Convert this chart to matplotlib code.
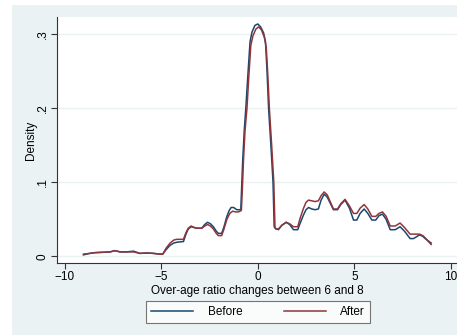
import numpy as np
import matplotlib.pyplot as plt
from matplotlib.patches import Rectangle

plt.rcParams['font.family'] = ['Liberation Sans', 'DejaVu Sans']

# Density curves
x_before = [-9.03, -8.7, -8.43, -8.0, -7.65, -7.4, -7.13, -6.8, -6.44, -6.1, -5.75, -5.4, -5.1,
            -4.92, -4.75, -4.54, -4.35, -4.2, -3.85, -3.72, -3.6, -3.45, -3.3, -3.16, -2.9,
            -2.75, -2.6, -2.45, -2.3, -2.15, -2.04, -1.87, -1.75, -1.6, -1.48, -1.38, -1.25,
            -1.09, -0.88, -0.84, -0.78, -0.7, -0.62, -0.5, -0.4, -0.3, -0.15, 0.0, 0.15, 0.3,
            0.4, 0.48, 0.56, 0.68, 0.79, 0.85, 0.9, 1.07, 1.25, 1.47, 1.65, 1.85, 2.07, 2.2,
            2.37, 2.5, 2.63, 2.8, 2.97, 3.14, 3.28, 3.44, 3.6, 3.75, 3.92, 4.13, 4.3, 4.52,
            4.75, 4.96, 5.13, 5.3, 5.51, 5.7, 5.91, 6.11, 6.28, 6.46, 6.65, 6.86, 7.12, 7.37,
            7.6, 7.89, 8.07, 8.38, 8.55, 8.67, 8.98]
y_before = [0.002, 0.004, 0.005, 0.0055, 0.006, 0.0077, 0.006, 0.006, 0.007, 0.004, 0.0045, 0.004, 0.003,
            0.003, 0.009, 0.015, 0.018, 0.019, 0.02, 0.03, 0.037, 0.04, 0.039, 0.038, 0.038,
            0.043, 0.046, 0.044, 0.04, 0.034, 0.031, 0.031, 0.04, 0.054, 0.062, 0.066, 0.066,
            0.063, 0.063, 0.09, 0.13, 0.17, 0.2, 0.25, 0.29, 0.303, 0.312, 0.314, 0.31, 0.302,
            0.29, 0.25, 0.2, 0.15, 0.1, 0.04, 0.038, 0.036, 0.042, 0.046, 0.043, 0.036, 0.036, 0.045,
            0.056, 0.063, 0.066, 0.064, 0.063, 0.064, 0.076, 0.084, 0.08, 0.072, 0.063, 0.063, 0.07, 0.076,
            0.065, 0.049, 0.049, 0.058, 0.064, 0.058, 0.049, 0.049, 0.055, 0.057, 0.05, 0.036, 0.036, 0.04,
            0.034, 0.024, 0.024, 0.029, 0.027, 0.024, 0.018]

x_after = [-9.03, -8.7, -8.43, -8.0, -7.65, -7.4, -7.13, -6.8, -6.44, -6.1, -5.75, -5.4, -5.1,
           -4.92, -4.75, -4.54, -4.35, -4.2, -3.85, -3.72, -3.6, -3.45, -3.3, -3.16, -2.9,
           -2.75, -2.6, -2.45, -2.3, -2.15, -2.04, -1.87, -1.75, -1.6, -1.45, -1.3, -1.15,
           -1.0, -0.85, -0.8, -0.74, -0.66, -0.56, -0.46, -0.36, -0.25, -0.1, 0.04, 0.19, 0.34,
           0.44, 0.52, 0.6, 0.72, 0.83, 0.89, 0.93, 1.07, 1.25, 1.47, 1.65, 1.85, 2.07, 2.2,
           2.37, 2.5, 2.63, 2.8, 2.97, 3.14, 3.28, 3.44, 3.6, 3.75, 3.92, 4.13, 4.3, 4.52,
           4.75, 4.96, 5.13, 5.3, 5.51, 5.7, 5.91, 6.11, 6.28, 6.46, 6.65, 6.86, 7.12, 7.37,
           7.6, 7.89, 8.07, 8.38, 8.55, 8.67, 8.98]
y_after = [0.003, 0.004, 0.005, 0.0055, 0.006, 0.0077, 0.006, 0.006, 0.006, 0.004, 0.0045, 0.004, 0.003,
           0.003, 0.011, 0.018, 0.022, 0.023, 0.023, 0.032, 0.038, 0.041, 0.039, 0.038, 0.038,
           0.041, 0.043, 0.041, 0.037, 0.031, 0.028, 0.028, 0.037, 0.05, 0.058, 0.061, 0.06,
           0.06, 0.062, 0.09, 0.13, 0.17, 0.2, 0.245, 0.285, 0.298, 0.307, 0.31, 0.306, 0.296,
           0.282, 0.245, 0.2, 0.15, 0.1, 0.04, 0.037, 0.037, 0.042, 0.046, 0.044, 0.04, 0.04, 0.052,
           0.065, 0.073, 0.076, 0.075, 0.074, 0.075, 0.082, 0.087, 0.083, 0.074, 0.064, 0.064, 0.071, 0.077,
           0.068, 0.058, 0.058, 0.065, 0.07, 0.064, 0.054, 0.054, 0.058, 0.06, 0.054, 0.041, 0.041, 0.045,
           0.039, 0.03, 0.03, 0.03, 0.028, 0.025, 0.016]

xticks = [-10, -5, 0, 5, 10]
yticks = [0, 0.1, 0.2, 0.3]
ytick_labels = ['0', '.1', '.2', '.3']

fig = plt.figure(figsize=(4.57, 3.35), dpi=100, facecolor='white')
fig.patches.append(Rectangle((12/457, 0), 1, 330/335, transform=fig.transFigure,
                             facecolor='#EAF2F3', edgecolor='none', zorder=-10))
ax = fig.add_axes([57/457, 72/335, 1 - 57/457, 246/335])
ax.set_facecolor('white')

ax.plot(x_before, y_before, color='#1A476F', lw=1.1, label='Before', solid_joinstyle='round')
ax.plot(x_after, y_after, color='#90353B', lw=1.1, label='After', solid_joinstyle='round')

ax.set_xlim(-10.4, 10.32)
ax.set_ylim(-0.009, 0.3234)
ax.set_xticks(xticks)
ax.set_yticks(yticks)
ax.set_yticklabels(ytick_labels, rotation=90, va='center')
ax.tick_params(labelsize=8.5, length=4, color='#333333', pad=2)
for y in yticks:
    ax.axhline(y, color='#EAF2F3', lw=1, zorder=0)
for s in ['top', 'right']:
    ax.spines[s].set_visible(False)
for s in ['left', 'bottom']:
    ax.spines[s].set_color('#333333')
    ax.spines[s].set_linewidth(0.8)

ax.set_xlabel('Over-age ratio changes between 6 and 8', fontsize=8.5, labelpad=1)
ax.set_ylabel('Density', fontsize=8.5, labelpad=0)

leg = fig.legend(loc='center', bbox_to_anchor=(258/457, 1 - 312/335), ncol=2,
                 fontsize=8.5, frameon=True, fancybox=False, handlelength=3.6,
                 columnspacing=3.5, borderpad=0.45, handletextpad=1.2)
leg.get_frame().set_edgecolor('#555555')
leg.get_frame().set_linewidth(0.8)

plt.savefig('out.png', dpi=100)
